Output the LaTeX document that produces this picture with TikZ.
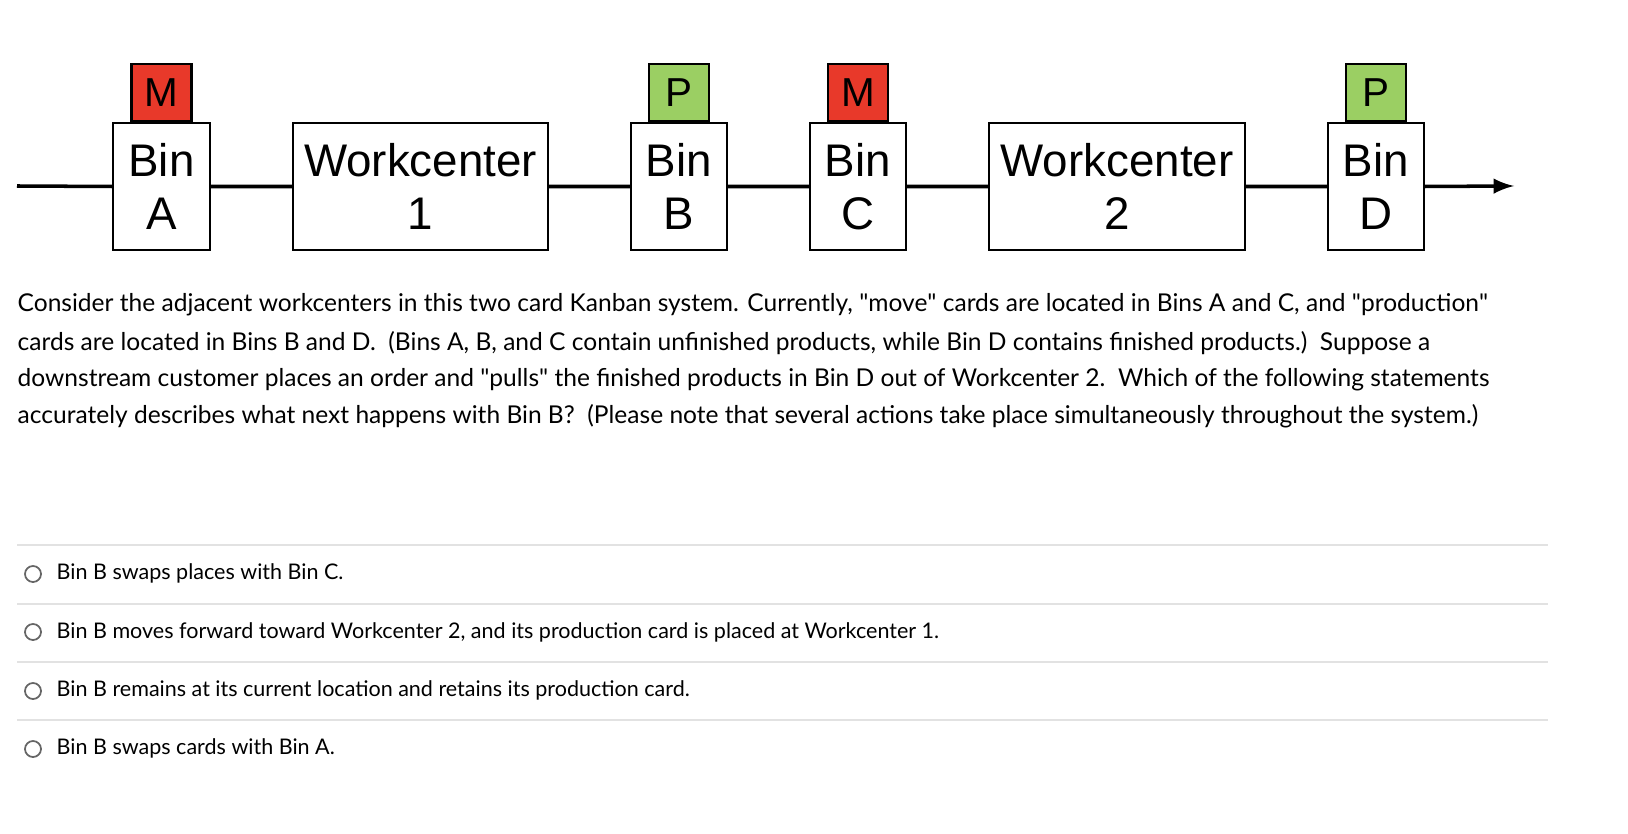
\documentclass[tikz,border=0pt]{standalone}
\usepackage{fontspec}
\setmainfont{Lato}
\newfontfamily\arial{Liberation Sans}
\definecolor{mred}{HTML}{E8392A}
\definecolor{pgreen}{HTML}{9BCF63}
\definecolor{sep}{HTML}{E2E2E2}
\newcommand{\qq}{\textquotedbl}
\begin{document}
\begin{tikzpicture}[x=0.01cm,y=-0.01cm,
  box/.style={draw,line width=0.6pt,fill=white,inner sep=0pt,align=center,font=\arial\fontsize{13}{15}\selectfont},
  card/.style={draw,line width=0.6pt,inner sep=0pt,minimum width=0.6cm,minimum height=0.57cm,font=\arial\fontsize{11.5}{13}\selectfont},
  para/.style={anchor=west,inner sep=0pt,font=\fontsize{6.98}{9}\selectfont},
  opt/.style={anchor=west,inner sep=0pt,font=\fontsize{6.12}{8}\selectfont},
  radio/.style={draw,circle,minimum size=0.16cm,inner sep=0pt,line width=0.5pt,gray!80!black}]
\useasboundingbox (0,0) rectangle (1628,834);
\coordinate (s) at (17,186);
\coordinate (e) at (1514,186);
\node[box,minimum width=0.97cm,minimum height=1.27cm] (A) at (161.5,186.5) {Bin\\A};
\node[box,minimum width=2.55cm,minimum height=1.27cm] (W1) at (420.5,186.5) {Workcenter\\1};
\node[box,minimum width=0.96cm,minimum height=1.27cm] (B) at (679,186.5) {Bin\\B};
\node[box,minimum width=0.96cm,minimum height=1.27cm] (C) at (858,186.5) {Bin\\C};
\node[box,minimum width=2.56cm,minimum height=1.27cm] (W2) at (1117,186.5) {Workcenter\\2};
\node[box,minimum width=0.96cm,minimum height=1.27cm] (D) at (1376,186.5) {Bin\\D};
\draw[line width=1pt] (s) -- (A.west) (A.east) -- (W1.west) (W1.east) -- (B.west) (B.east) -- (C.west) (C.east) -- (W2.west) (W2.east) -- (D.west);
\draw[line width=1pt,-latex] (D.east) -- (e);
\node[card,fill=mred,anchor=south] (mA) at (A.north) {M};
\node[card,fill=pgreen,anchor=south] (pB) at (B.north) {P};
\node[card,fill=mred,anchor=south] (mC) at (C.north) {M};
\node[card,fill=pgreen,anchor=south] (pD) at (D.north) {P};
\node[para] (t1) at (17,305) {Consider the adjacent workcenters in this two card Kanban system. Currently, \qq move\qq\ cards are located in Bins A and C, and \qq production\qq};
\node[para] (t2) at (17,343) {cards are located in Bins B and D.\ \ (Bins A, B, and C contain unfinished products, while Bin D contains finished products.)\ \ Suppose a};
\node[para] (t3) at (17,380) {downstream customer places an order and \qq pulls\qq\ the finished products in Bin D out of Workcenter 2.\ \ Which of the following statements};
\node[para] (t4) at (17,416) {accurately describes what next happens with Bin B?\ \ (Please note that several actions take place simultaneously throughout the system.)};
\foreach \y in {545,604,662,720} \draw[sep,line width=0.6pt] (17,\y) -- (1548,\y);
\node[radio] (r1) at (33,574) {};
\node[opt] (o1) at (56,573) {Bin B swaps places with Bin C.};
\node[radio] (r2) at (33,632) {};
\node[opt] (o2) at (56,632) {Bin B moves forward toward Workcenter 2, and its production card is placed at Workcenter 1.};
\node[radio] (r3) at (33,691) {};
\node[opt] (o3) at (56,690) {Bin B remains at its current location and retains its production card.};
\node[radio] (r4) at (33,749) {};
\node[opt] (o4) at (56,748) {Bin B swaps cards with Bin A.};
\end{tikzpicture}
\end{document}
